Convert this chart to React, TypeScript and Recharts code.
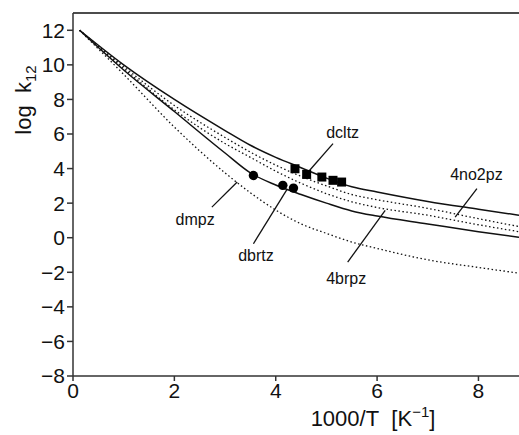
import React from 'react';
import {
  ComposedChart,
  Line,
  Scatter,
  XAxis,
  YAxis,
  ReferenceLine,
  ReferenceDot,
  Label,
} from 'recharts';

// 1000/T sample positions and log k12 for each curve
const xs = [0.13, 1, 2, 3, 3.5, 4, 4.5, 5, 5.5, 6, 7, 8, 8.8];
const no2pz = [12.0, 10.0, 8.0, 6.2, 5.35, 4.65, 4.05, 3.45, 2.95, 2.65, 2.1, 1.65, 1.3];
const dotUpper = [12.0, 9.9, 7.65, 5.8, 4.95, 4.2, 3.55, 3.0, 2.5, 2.2, 1.7, 1.1, 0.65];
const dotLower = [12.0, 9.8, 7.4, 5.45, 4.65, 3.85, 3.15, 2.55, 2.08, 1.75, 1.3, 0.75, 0.35];
const brpz = [12.0, 9.7, 7.3, 4.9, 3.75, 3.05, 2.5, 2.0, 1.55, 1.25, 0.8, 0.35, 0.03];
const dmpz = [12.0, 9.45, 6.4, 3.75, 2.6, 1.6, 0.8, 0.25, -0.25, -0.62, -1.28, -1.72, -2.05];

// measured points
const dcltzX = [4.38, 4.61, 4.91, 5.13, 5.3];
const dcltzY = [3.99, 3.66, 3.51, 3.32, 3.22];
const dbrtzX = [3.56, 4.14, 4.35];
const dbrtzY = [3.6, 3.03, 2.87];

const xTicks = [0, 2, 4, 6, 8];
const yTicks = [-8, -6, -4, -2, 0, 2, 4, 6, 8, 10, 12];

// curve labels: text position and leader line ends
const labels = [
  { text: 'dcltz', tx: 5.32, ty: 6.09, x1: 5.13, y1: 5.44, x2: 4.64, y2: 3.8 },
  { text: '4no2pz', tx: 7.96, ty: 3.66, x1: 7.97, y1: 2.84, x2: 7.54, y2: 1.19 },
  { text: 'dmpz', tx: 2.41, ty: 1.06, x1: 2.74, y1: 1.77, x2: 3.24, y2: 3.22 },
  { text: 'dbrtz', tx: 3.61, ty: -1.02, x1: 3.56, y1: -0.35, x2: 4.22, y2: 2.78 },
  { text: '4brpz', tx: 5.39, ty: -2.33, x1: 5.42, y1: -1.41, x2: 6.16, y2: 1.58 },
];

const curveData = xs.map((x, i) => ({
  x,
  no2pz: no2pz[i],
  d1: dotUpper[i],
  d2: dotLower[i],
  brpz: brpz[i],
  dmpz: dmpz[i],
}));
const squares = dcltzX.map((x, i) => ({ x, y: dcltzY[i] }));
const circles = dbrtzX.map((x, i) => ({ x, y: dbrtzY[i] }));

const font = '"Liberation Sans", Arial, sans-serif';

const SquareShape = (p: any) => (
  <rect x={p.cx - 4.5} y={p.cy - 4.5} width={9} height={9} fill="#000" />
);
const CircleShape = (p: any) => <circle cx={p.cx} cy={p.cy} r={4.7} fill="#000" />;

const YTitle = (props: any) => {
  const { viewBox } = props;
  const x = viewBox.x + 31;
  const y = viewBox.y + 87;
  return (
    <text
      x={x}
      y={y}
      transform={`rotate(-90 ${x} ${y})`}
      textAnchor="middle"
      fontFamily={font}
      fontSize={22}
      fill="#111"
    >
      log&#160;&#160;k
      <tspan fontSize={15} dy={5}>12</tspan>
    </text>
  );
};

const XTitle = (props: any) => {
  const { viewBox } = props;
  return (
    <text
      x={viewBox.x + 300}
      y={viewBox.y + 50}
      textAnchor="middle"
      fontFamily={font}
      fontSize={22}
      fill="#111"
    >
      1000/T&#160;&#160;[K
      <tspan fontSize={15} dy={-9}>&#8722;1</tspan>
      <tspan dy={9}>]</tspan>
    </text>
  );
};

const minus = (v: number) => String(v).replace('-', '\u2212');

export default function App() {
  return (
    <div style={{ position: 'absolute', left: 0, top: 0, background: '#fff' }}>
      <ComposedChart
        width={519}
        height={435}
        data={curveData}
        margin={{ top: 13, right: 0, left: 0, bottom: 0 }}
      >
        <XAxis
          dataKey="x"
          type="number"
          domain={[0, 8.8]}
          ticks={xTicks}
          allowDataOverflow
          height={59}
          stroke="#333"
          strokeWidth={1.5}
          tickSize={5}
          tick={{ fill: '#111', fontSize: 21, fontFamily: font }}
        >
          <Label content={XTitle} />
        </XAxis>
        <YAxis
          type="number"
          domain={[-8, 13]}
          ticks={yTicks}
          tickFormatter={minus}
          allowDataOverflow
          width={73}
          stroke="#333"
          strokeWidth={1.5}
          tickSize={6}
          tick={{ fill: '#111', fontSize: 21, fontFamily: font }}
        >
          <Label content={YTitle} />
        </YAxis>
        <ReferenceLine y={13} stroke="#111" strokeWidth={1.5} ifOverflow="visible" />

        <Line dataKey="dmpz" type="monotone" stroke="#111" strokeWidth={1.3} strokeDasharray="1.5 2.5" dot={false} isAnimationActive={false} />
        <Line dataKey="d2" type="monotone" stroke="#111" strokeWidth={1.3} strokeDasharray="1.5 2.5" dot={false} isAnimationActive={false} />
        <Line dataKey="d1" type="monotone" stroke="#111" strokeWidth={1.3} strokeDasharray="1.5 2.5" dot={false} isAnimationActive={false} />
        <Line dataKey="brpz" type="monotone" stroke="#111" strokeWidth={1.5} dot={false} isAnimationActive={false} />
        <Line dataKey="no2pz" type="monotone" stroke="#111" strokeWidth={1.5} dot={false} isAnimationActive={false} />

        {labels.map((l) => (
          <ReferenceLine
            key={'l' + l.text}
            segment={[{ x: l.x1, y: l.y1 }, { x: l.x2, y: l.y2 }]}
            stroke="#111"
            strokeWidth={1.3}
            ifOverflow="visible"
          />
        ))}
        {labels.map((l) => (
          <ReferenceDot
            key={'t' + l.text}
            x={l.tx}
            y={l.ty}
            r={0}
            fill="none"
            stroke="none"
            ifOverflow="visible"
            label={{ value: l.text, position: 'center', fontSize: 16, fill: '#111', fontFamily: font }}
          />
        ))}

        <Scatter data={squares} dataKey="y" shape={SquareShape} isAnimationActive={false} />
        <Scatter data={circles} dataKey="y" shape={CircleShape} isAnimationActive={false} />
      </ComposedChart>
    </div>
  );
}
